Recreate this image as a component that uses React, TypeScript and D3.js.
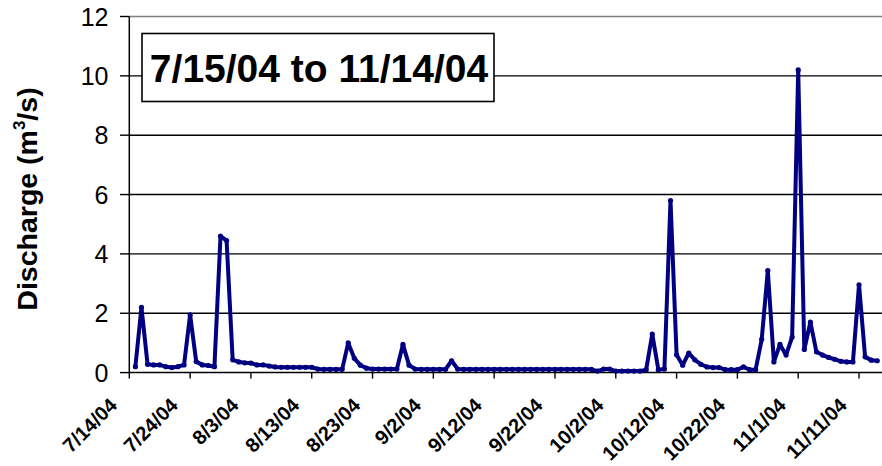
import React from "react";
import * as d3 from "d3";

const startDate = new Date(2004, 6, 15);
const discharge: number[] = [
  0.2, 2.2, 0.28, 0.26, 0.26, 0.2, 0.17, 0.2, 0.26, 1.95,
  0.37, 0.26, 0.24, 0.2, 4.6, 4.45, 0.43, 0.36, 0.33, 0.32,
  0.26, 0.26, 0.22, 0.19, 0.18, 0.18, 0.18, 0.18, 0.18, 0.18,
  0.12, 0.11, 0.11, 0.11, 0.11, 1.0, 0.48, 0.25, 0.15, 0.12,
  0.12, 0.12, 0.12, 0.12, 0.95, 0.25, 0.12, 0.11, 0.11, 0.11,
  0.11, 0.11, 0.4, 0.12, 0.11, 0.11, 0.11, 0.11, 0.11, 0.11,
  0.11, 0.11, 0.11, 0.11, 0.11, 0.11, 0.11, 0.11, 0.11, 0.11,
  0.11, 0.11, 0.11, 0.11, 0.11, 0.11, 0.05, 0.12, 0.12, 0.05,
  0.05, 0.05, 0.05, 0.05, 0.1, 1.3, 0.1, 0.12, 5.8, 0.6,
  0.25, 0.66, 0.43, 0.28, 0.19, 0.17, 0.17, 0.1, 0.1, 0.1,
  0.19, 0.1, 0.1, 1.12, 3.44, 0.36, 0.95, 0.59, 1.2, 10.2,
  0.78, 1.7, 0.7, 0.59, 0.51, 0.45, 0.38, 0.36, 0.36, 2.96,
  0.53, 0.42, 0.4,
];
const yTicks = [0, 2, 4, 6, 8, 10, 12];
const xTickDates = [
  "2004-07-14", "2004-07-24", "2004-08-03", "2004-08-13", "2004-08-23",
  "2004-09-02", "2004-09-12", "2004-09-22", "2004-10-02", "2004-10-12",
  "2004-10-22", "2004-11-01", "2004-11-11",
];
const titleText = "7/15/04 to 11/14/04";

const W = 882;
const H = 466;
const left = 129.3;
const plotRight = 882;
const top = 16.5;
const bottom = 372.6;
const dayPx = 6.081;

export default function App() {
  const parse = (s: string) => {
    const [y, m, d] = s.split("-").map(Number);
    return new Date(y, m - 1, d);
  };
  const axisStart = new Date(2004, 6, 14);
  const axisEnd = new Date(2004, 10, 14);
  const x = d3
    .scaleTime()
    .domain([axisStart, axisEnd])
    .range([left, left + 123 * dayPx]);
  const y = d3.scaleLinear().domain([0, 12]).range([bottom, top]);
  const data = discharge.map((v, i) => ({
    date: d3.timeDay.offset(startDate, i),
    v,
  }));
  const line = d3
    .line<{ date: Date; v: number }>()
    .x((d) => x(d.date))
    .y((d) => y(d.v));
  const fmt = (d: Date) =>
    `${d.getMonth() + 1}/${d.getDate()}/${String(d.getFullYear()).slice(2)}`;
  const font = "Arial, 'Liberation Sans', sans-serif";

  return (
    <svg
      width={W}
      height={H}
      style={{ position: "absolute", left: 0, top: 0, background: "#fff" }}
      fontFamily={font}
    >
      {/* gridlines */}
      {yTicks
        .filter((t) => t > 0)
        .map((t) => (
          <line
            key={t}
            x1={left}
            x2={plotRight}
            y1={y(t)}
            y2={y(t)}
            stroke={t === 12 ? "#808080" : "#000"}
            strokeWidth={1.4}
          />
        ))}
      {/* y axis */}
      <line x1={left} x2={left} y1={top} y2={bottom} stroke="#000" strokeWidth={1.5} />
      {yTicks.map((t) => (
        <g key={t}>
          <line x1={120} x2={left} y1={y(t)} y2={y(t)} stroke="#000" strokeWidth={1.4} />
          <text
            x={108.5}
            y={y(t)}
            textAnchor="end"
            dominantBaseline="central"
            fontSize={25}
            fill="#000"
          >
            {t}
          </text>
        </g>
      ))}
      {/* x axis */}
      <line x1={left} x2={plotRight} y1={bottom} y2={bottom} stroke="#000" strokeWidth={1.5} />
      {xTickDates.map((s) => {
        const d = parse(s);
        const px = x(d);
        return (
          <g key={s}>
            <line x1={px} x2={px} y1={bottom} y2={bottom + 6} stroke="#000" strokeWidth={1.4} />
            <text
              transform={`translate(${px - 11},${bottom + 34}) rotate(-45)`}
              textAnchor="end"
              fontSize={20}
              fontWeight="bold"
              fill="#000"
            >
              {fmt(d)}
            </text>
          </g>
        );
      })}
      {/* series */}
      <path d={line(data) || ""} fill="none" stroke="#000080" strokeWidth={4} strokeLinejoin="round" />
      {data.map((d, i) => (
        <circle key={i} cx={x(d.date)} cy={y(d.v)} r={2.6} fill="#000080" />
      ))}
      {/* title box */}
      <rect x={142} y={33.5} width={352} height={68} fill="#fff" stroke="#000" strokeWidth={1.6} />
      <text x={319} y={82} textAnchor="middle" fontSize={39} fontWeight="bold" fill="#000">
        {titleText}
      </text>
      {/* y label */}
      <text
        transform={`translate(37,199) rotate(-90)`}
        textAnchor="middle"
        fontSize={28.5}
        fontWeight="bold"
        fill="#000"
      >
        Discharge (m
        <tspan fontSize={17} dy={-12}>3</tspan>
        <tspan dy={12}>/s)</tspan>
      </text>
    </svg>
  );
}
